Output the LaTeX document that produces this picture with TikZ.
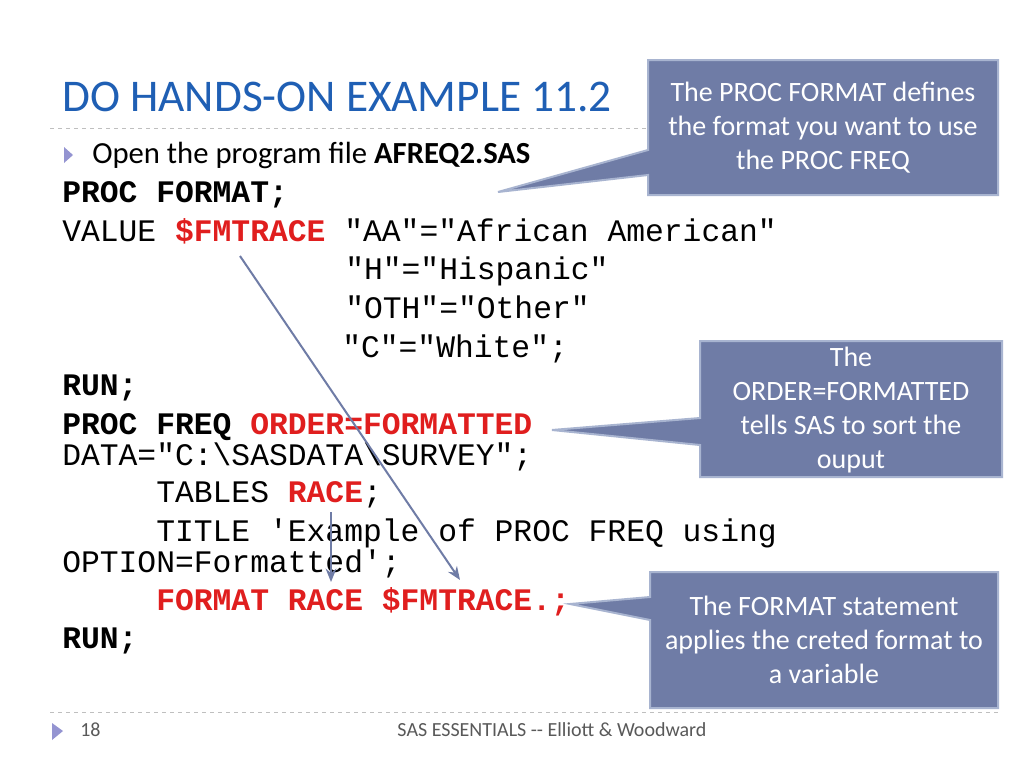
\documentclass[tikz,border=0pt]{standalone}
\usepackage{fontspec}
\setmainfont{Carlito}
\newfontfamily\codefont{Liberation Mono}
\usetikzlibrary{arrows.meta}
\definecolor{callfill}{HTML}{6F7CA6}
\definecolor{callline}{HTML}{A8B4D0}
\definecolor{titleblue}{HTML}{1F5FB4}
\definecolor{codered}{HTML}{E01E1E}
\tikzset{
 code/.style={anchor=base west,inner sep=0,font=\codefont\fontsize{23.5}{23.5}\selectfont},
 callout/.style={fill=callfill,draw=callline,line width=1.5pt},
 calltext/.style={text=white,align=center,font=\fontsize{21}{25.5}\selectfont,inner sep=0},
 pointer/.style={draw=callfill,line width=1.5pt,-{Stealth[length=10pt,width=8pt]}}
}
\begin{document}
\begin{tikzpicture}[x=0.75pt,y=-0.75pt]
\useasboundingbox[fill=white] (0,0) rectangle (1024,768);
\node[anchor=base west,inner sep=0,text=titleblue,font=\fontsize{34}{34}\selectfont] (title) at (62,111) {DO HANDS-ON EXAMPLE 11.2};
\draw[gray!50,dashed] (50,128) -- (1000,128);
\draw[gray!50,dashed] (50,712) -- (1000,712);
\fill[gray!60!blue!60] (64,147) -- (73,155) -- (64,163) -- cycle;
\node[anchor=base west,inner sep=0,font=\fontsize{23}{23}\selectfont] (open) at (92,163) {Open the program file \textbf{AFREQ2.SAS}};
\node[code] (l1) at (62,202) {\textbf{PROC FORMAT;}};
\node[code] (l2) at (62,241) {VALUE \textbf{\textcolor{codered}{\$FMTRACE}} "AA"="African American"};
\node[code] (l3) at (345,279) {"H"="Hispanic"};
\node[code] (l4) at (345,318) {"OTH"="Other"};
\node[code] (l5) at (342,357) {"C"="White";};
\node[code] (l6) at (62,395) {\textbf{RUN;}};
\node[code] (l7) at (62,434) {\textbf{PROC FREQ \textcolor{codered}{ORDER=FORMATTED}}};
\node[code] (l8) at (62,465) {DATA="C:\textbackslash SASDATA\textbackslash SURVEY";};
\node[code] (l9) at (156,502) {TABLES \textbf{\textcolor{codered}{RACE}};};
\node[code] (l10) at (156,541) {TITLE 'Example of PROC FREQ using};
\node[code] (l11) at (62,572) {OPTION=Formatted';};
\node[code] (l12) at (156,610) {\textbf{\textcolor{codered}{FORMAT RACE \$FMTRACE.;}}};
\node[code] (l13) at (62,648) {\textbf{RUN;}};
% callouts
\draw[callout] (648,60) -- (998,60) -- (998,195) -- (648,195) -- (648,175) -- (498,192) -- (648,150) -- cycle;
\node[calltext] (c1) at (823,128) {The PROC FORMAT defines\\the format you want to use\\the PROC FREQ};
\draw[callout] (700,341) -- (1002,341) -- (1002,477) -- (700,477) -- (700,445) -- (552,430) -- (700,418) -- cycle;
\node[calltext] (c2) at (851,410) {The\\ORDER=FORMATTED\\tells SAS to sort the\\ouput};
\draw[callout] (650,572) -- (998,572) -- (998,708) -- (650,708) -- (650,620) -- (570,604) -- (650,597) -- cycle;
\node[calltext] (c3) at (824,640) {The FORMAT statement\\applies the creted format to\\a variable};
% arrows
\coordinate (a1) at (240,256);
\coordinate (a2) at (460,580);
\coordinate (b1) at (331,512);
\coordinate (b2) at (331,582);
\draw[pointer] (a1) -- (a2);
\draw[pointer] (b1) -- (b2);
% footer
\fill[gray!60!blue!60] (52,723) -- (63,731) -- (52,740) -- cycle;
\node[anchor=base west,inner sep=0,font=\fontsize{15}{15}\selectfont,text=gray!70!black] (num) at (80,736) {18};
\node[anchor=base,inner sep=0,font=\fontsize{15}{15}\selectfont,text=gray!70!black] (foot) at (552,736) {SAS ESSENTIALS -{}- Elliott \& Woodward};
\end{tikzpicture}
\end{document}
